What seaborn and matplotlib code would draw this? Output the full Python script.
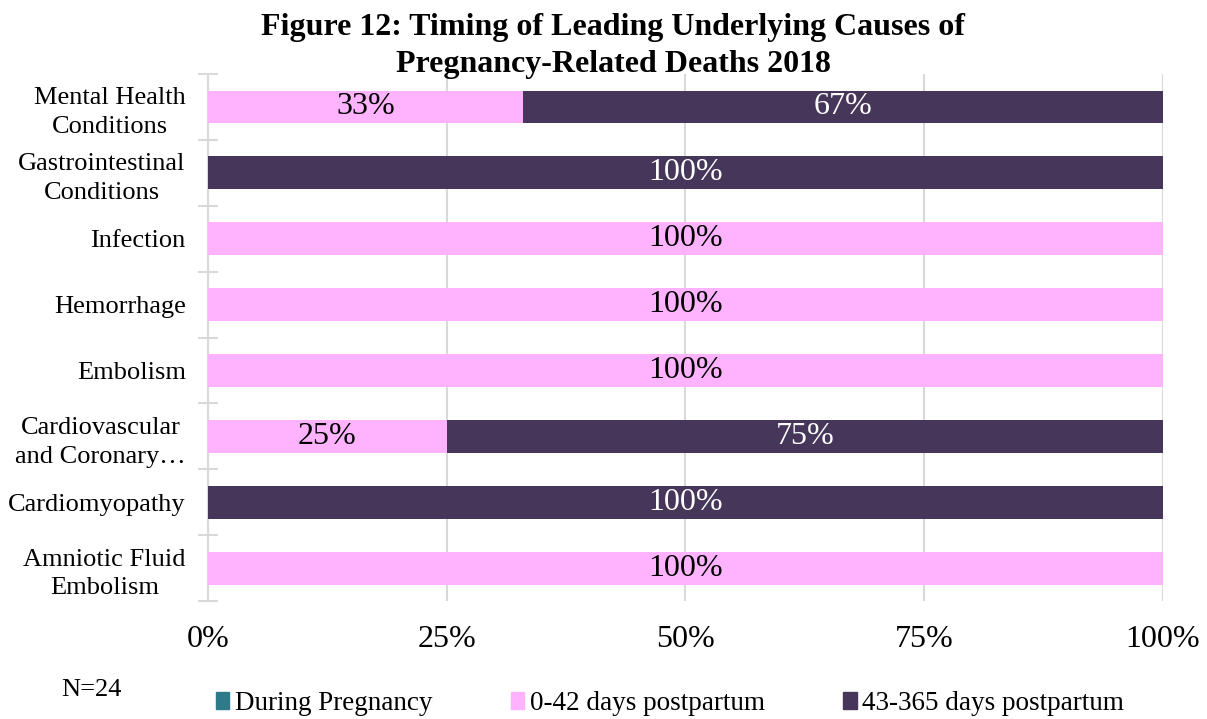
import pandas as pd
import numpy as np
import seaborn as sns
import matplotlib.pyplot as plt
from matplotlib.patches import Patch

# data (percent of deaths per cause)
causes = ['Mental Health\nConditions', 'Gastrointestinal\nConditions', 'Infection',
          'Hemorrhage', 'Embolism', 'Cardiovascular\nand Coronary…',
          'Cardiomyopathy', 'Amniotic Fluid\nEmbolism']
during_preg = [0, 0, 0, 0, 0, 0, 0, 0]
early_pp = [33, 0, 100, 100, 100, 25, 0, 100]
late_pp = [67, 100, 0, 0, 0, 75, 100, 0]
series_names = ['During Pregnancy', '0-42 days postpartum', '43-365 days postpartum']
x_ticks = [0, 25, 50, 75, 100]

df = pd.DataFrame({'cause': causes, 'during': during_preg,
                   'early': early_pp, 'late': late_pp})
df['early_cum'] = df['during'] + df['early']
df['total'] = df['early_cum'] + df['late']

TEAL = '#2E7A8A'
PINK = '#FFB3FF'
DARK = '#46365A'
GRID = '#D9D9D9'

sns.set_theme(style='white')
plt.rcParams['font.family'] = ['Liberation Serif', 'DejaVu Serif']
plt.rcParams['text.color'] = 'black'
plt.rcParams['xtick.color'] = 'black'
plt.rcParams['ytick.labelcolor'] = 'black'

fig = plt.figure(figsize=(12.07, 7.19), dpi=100)
ax = fig.add_axes([0.1723, 0.164, 0.7912, 0.733])

# layered bars: full total first, then cumulative pieces on top
sns.barplot(data=df, x='total', y='cause', color=DARK, orient='h', width=0.5,
            saturation=1, ax=ax, zorder=3, linewidth=0)
sns.barplot(data=df, x='early_cum', y='cause', color=PINK, orient='h', width=0.5,
            saturation=1, ax=ax, zorder=3, linewidth=0)
sns.barplot(data=df, x='during', y='cause', color=TEAL, orient='h', width=0.5,
            saturation=1, ax=ax, zorder=3, linewidth=0)

for i, row in df.iterrows():
    if row['early'] > 0:
        ax.text(row['during'] + row['early'] / 2, i, f"{row['early']}%",
                ha='center', va='center', fontsize=23, color='black', zorder=4)
    if row['late'] > 0:
        ax.text(row['early_cum'] + row['late'] / 2, i, f"{row['late']}%",
                ha='center', va='center', fontsize=23, color='white', zorder=4)

ax.set_xlim(0, 100)
ax.set_ylim(len(causes) - 0.5, -0.5)
ax.set_xticks(x_ticks)
ax.set_xticklabels([f'{t}%' for t in x_ticks], fontsize=23)
ax.set_yticks(range(len(causes)))
ax.set_yticklabels(causes, fontsize=19)
for lbl in ax.get_yticklabels():
    lbl.set_multialignment('center')
    lbl.set_linespacing(1.4)
ax.set_yticks(np.arange(-0.5, len(causes)), minor=True)
ax.tick_params(axis='x', length=0, pad=17)
ax.tick_params(axis='y', which='major', left=False, length=0, pad=16)
ax.tick_params(axis='y', which='minor', left=True, direction='inout', length=14,
               width=1.5, color=GRID)
ax.set_xlabel('')
ax.set_ylabel('')

ax.xaxis.grid(True, color=GRID, linewidth=1.5, zorder=0)
ax.set_axisbelow(True)
for s in ['top', 'right', 'bottom']:
    ax.spines[s].set_visible(False)
ax.spines['left'].set_color(GRID)
ax.spines['left'].set_linewidth(1.5)

fig.text(0.508, 0.982, 'Figure 12: Timing of Leading Underlying Causes of\nPregnancy-Related Deaths 2018',
         ha='center', va='top', fontsize=23, fontweight='bold', linespacing=1.36)

handles = [Patch(color=c) for c in [TEAL, PINK, DARK]]
fig.legend(handles, series_names, loc='center', bbox_to_anchor=(0.555, 0.022),
           ncol=3, frameon=False, fontsize=19.5, handlelength=0.5, handleheight=0.6,
           handletextpad=0.2, columnspacing=2.9, borderaxespad=0)

fig.text(0.051, 0.04, 'N=24', ha='left', va='center', fontsize=19)

fig.savefig('out.png', dpi=100)
